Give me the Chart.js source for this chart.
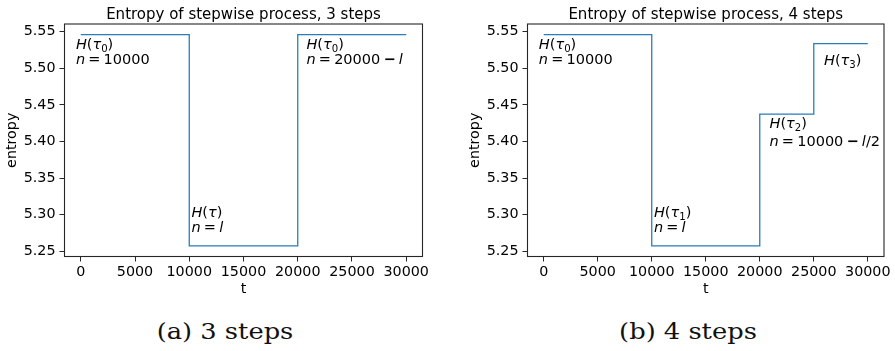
<!DOCTYPE html>
<html>
<head>
<meta charset="utf-8">
<script src="https://cdn.jsdelivr.net/npm/chart.js@4.4.1/dist/chart.umd.min.js"></script>
<style>
  html, body { margin: 0; padding: 0; background: #fff; }
  #wrap { position: relative; width: 895px; height: 351px; overflow: hidden; }
  canvas { position: absolute; top: 0; }
  .cap {
    position: absolute; top: 321px; font-family: "DejaVu Serif", serif; font-size: 22px;
    line-height: 1; color: #111; white-space: nowrap; transform: translateX(-50%) scaleX(1.17);
  }
</style>
</head>
<body>
<div id="wrap">
  <canvas id="steps3" width="447" height="300" style="left:0;width:447px;height:300px"></canvas>
  <canvas id="steps4" width="432" height="300" style="left:463px;width:432px;height:300px"></canvas>
  <div class="cap" style="left:225px">(a) 3 steps</div>
  <div class="cap" style="left:688px">(b) 4 steps</div>
</div>
<script>
// step boundaries (t) and the entropy level held on each interval
const tBreaks3 = [0, 10000, 20000, 30000];
const hLevels3 = [5.5459, 5.2574, 5.5459];
const tBreaks4 = [0, 10000, 20000, 25000, 30000];
const hLevels4 = [5.5459, 5.2574, 5.4373, 5.5336];

const xTicks = [0, 5000, 10000, 15000, 20000, 25000, 30000];
const yTicks = [5.25, 5.30, 5.35, 5.40, 5.45, 5.50, 5.55];

const notes3 = [["H(τ_0)", "n=10000"], ["H(τ)", "n=l"], ["H(τ_0)", "n=20000−l"]];
const notes4 = [["H(τ_0)", "n=10000"], ["H(τ_1)", "n=l"], ["H(τ_2)", "n=10000−l/2"], ["H(τ_3)"]];

const FONT = '"DejaVu Sans"';

// tiny mathtext-like renderer: letters italic, '_x' subscript, spaced relations
function drawMath(ctx, str, x, y, size) {
  let cx = x, i = 0;
  while (i < str.length) {
    const ch = str[i];
    if (ch === '_') {
      const s = str[i + 1];
      ctx.font = `${size * 0.7}px ${FONT}`;
      ctx.fillText(s, cx, y + size * 0.22);
      cx += ctx.measureText(s).width;
      i += 2;
      continue;
    }
    if (ch === '=' || ch === '−') {
      cx += size * 0.22;
      ctx.font = `${ch === '−' ? 'bold ' : ''}${size}px ${FONT}`;
      ctx.fillText(ch, cx, y);
      cx += ctx.measureText(ch).width + size * 0.22;
      i++;
      continue;
    }
    const italic = /[A-Za-zα-ω]/.test(ch);
    ctx.font = `${italic ? 'italic ' : ''}${size}px ${FONT}`;
    ctx.fillText(ch, cx, y);
    cx += ctx.measureText(ch).width;
    i++;
  }
}

// axes frame, title and in-plot annotations
const frameText = {
  id: 'frameText',
  afterDraw(chart, args, opts) {
    const { ctx, chartArea: a, scales } = chart;
    ctx.save();
    ctx.strokeStyle = '#262626';
    ctx.lineWidth = 1.1;
    ctx.strokeRect(a.left, a.top, a.right - a.left, a.bottom - a.top);

    ctx.fillStyle = '#000';
    ctx.textAlign = 'center';
    ctx.textBaseline = 'alphabetic';
    ctx.font = `${opts.titleSize}px ${FONT}`;
    ctx.fillText(opts.title, (a.left + a.right) / 2, a.top - 5.5);

    ctx.textAlign = 'left';
    opts.notes.forEach((lines, k) => {
      const [tx, ty] = opts.at[k];
      const px = scales.x.getPixelForValue(tx);
      const py = scales.y.getPixelForValue(ty);
      lines.forEach((ln, j) => drawMath(ctx, ln, px, py + j * opts.gap[k], 14.5));
    });
    ctx.restore();
  }
};

function buildChart(id, breaks, levels, title, notes, at, gap, rightPad) {
  const pts = breaks.map((t, i) => ({ x: t, y: levels[Math.min(i, levels.length - 1)] }));
  const lo = Math.min(...levels), hi = Math.max(...levels), m = 0.05 * (hi - lo);
  const tickFont = { family: 'DejaVu Sans', size: 14.3 };
  return new Chart(document.getElementById(id), {
    type: 'line',
    data: {
      datasets: [{
        data: pts, stepped: 'before', borderColor: '#2a7dba', borderWidth: 1.3,
        pointRadius: 0, fill: false, tension: 0
      }]
    },
    options: {
      responsive: false, animation: false, devicePixelRatio: 1,
      layout: { padding: { left: 0, right: rightPad, top: 24, bottom: 0 } },
      plugins: {
        legend: { display: false }, tooltip: { enabled: false }, title: { display: false },
        frameText: { title, titleSize: 15, notes, at, gap }
      },
      scales: {
        x: {
          type: 'linear', min: -1500, max: 31500,
          afterBuildTicks: s => { s.ticks = xTicks.map(v => ({ value: v })); },
          afterFit: s => { s.height = 43.5; },
          ticks: { autoSkip: false, maxRotation: 0, minRotation: 0, padding: 2, color: '#000', font: tickFont, callback: v => String(v) },
          grid: { drawOnChartArea: false, drawTicks: true, tickLength: 5, color: '#262626' },
          border: { display: false },
          title: { display: true, text: 't', color: '#000', font: tickFont, padding: { top: 0, bottom: 2 } }
        },
        y: {
          type: 'linear', min: lo - m, max: hi + m,
          afterBuildTicks: s => { s.ticks = yTicks.map(v => ({ value: v })); },
          afterFit: s => { s.width = 64.5; },
          ticks: { autoSkip: false, padding: 4, color: '#000', font: tickFont, callback: v => v.toFixed(2) },
          grid: { drawOnChartArea: false, drawTicks: true, tickLength: 5, color: '#262626' },
          border: { display: false },
          title: { display: true, text: 'entropy', color: '#000', font: tickFont, padding: { top: 4.1, bottom: 0 } }
        }
      }
    },
    plugins: [frameText]
  });
}

buildChart('steps3', tBreaks3, hLevels3, 'Entropy of stepwise process, 3 steps', notes3,
  [[-450, 5.5258], [10200, 5.2965], [20800, 5.5258]], [14.7, 14.7, 14.7], 24.5);
buildChart('steps4', tBreaks4, hLevels4, 'Entropy of stepwise process, 4 steps', notes4,
  [[-450, 5.5258], [10200, 5.2965], [20900, 5.418], [25950, 5.5044]], [14.7, 14.7, 18, 0], 11);
</script>
</body>
</html>
